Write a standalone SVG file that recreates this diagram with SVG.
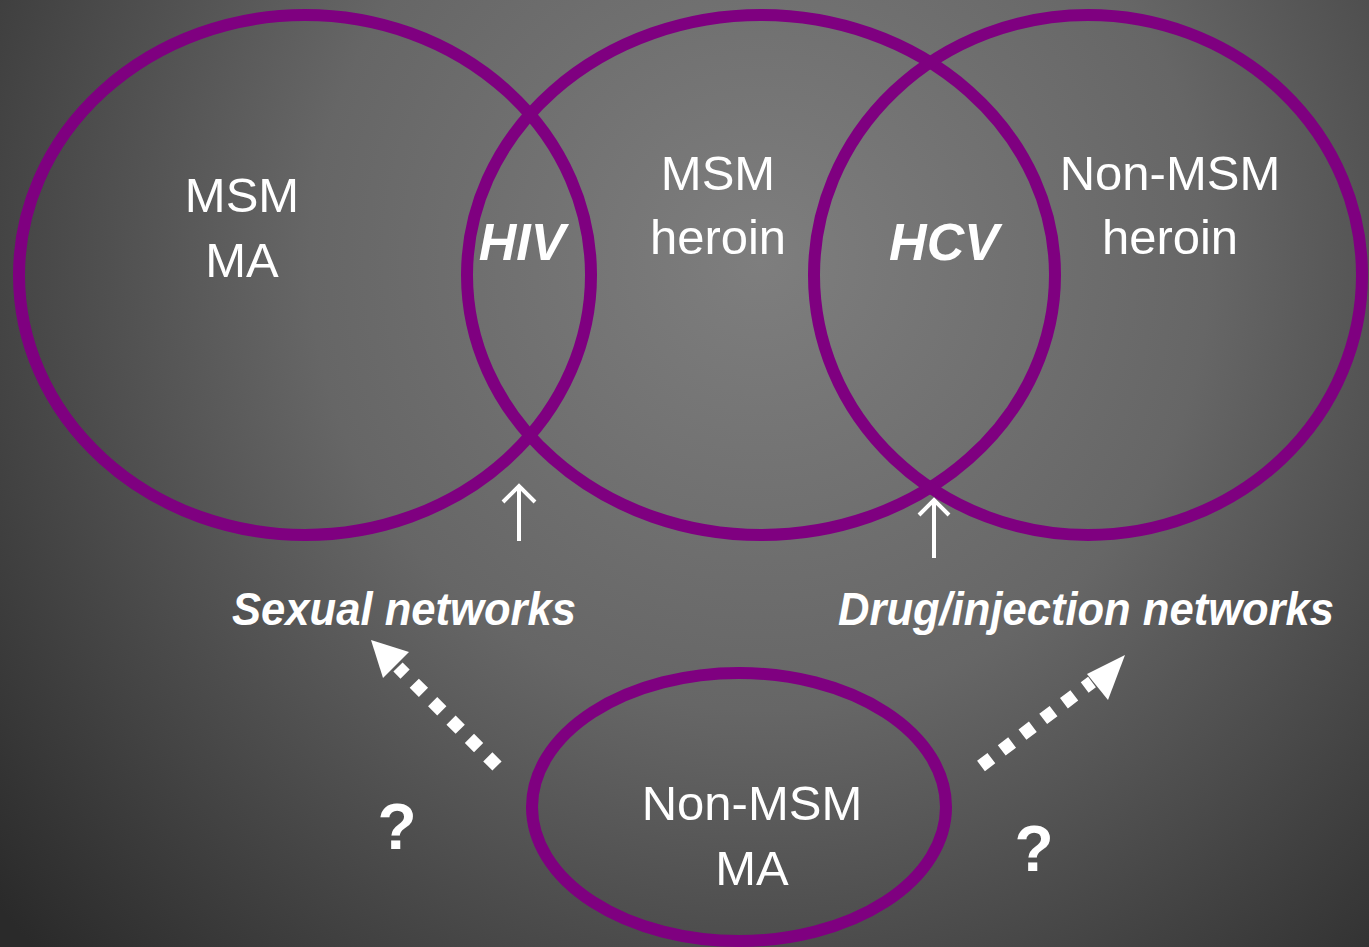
<svg xmlns="http://www.w3.org/2000/svg" width="1369" height="947" viewBox="0 0 1369 947">
<defs>
<radialGradient id="bg" gradientUnits="userSpaceOnUse" cx="760" cy="260" r="1000" fx="760" fy="260">
<stop offset="0" stop-color="#7e7e7e"/>
<stop offset="0.45" stop-color="#666666"/>
<stop offset="1" stop-color="#2a2a2a"/>
</radialGradient>
<style>
.ring{fill:none;stroke:#7f0080;stroke-width:12}
.t{fill:#fff;font-family:"Liberation Sans",Arial,sans-serif;font-size:49px;text-anchor:middle}
.bi{font-weight:bold;font-style:italic;font-size:52px}
.net{fill:#fff;font-family:"Liberation Sans Narrow","Liberation Sans",Arial,sans-serif;font-size:46px;font-weight:bold;font-style:italic}
.up{stroke:#fff;stroke-width:4;fill:none}
.dot{stroke:#fff;stroke-width:13;stroke-dasharray:13 13;fill:none}
.q{font-weight:bold;font-size:64px}
</style>
</defs>
<rect width="1369" height="947" fill="url(#bg)"/>
<g id="node-msm-ma"><ellipse class="ring" cx="305" cy="275" rx="286" ry="260"/><text class="t" x="242" y="212">MSM</text><text class="t" x="242" y="277">MA</text></g>
<g id="node-msm-heroin"><ellipse class="ring" cx="761" cy="275" rx="294" ry="260"/><text class="t" x="718" y="190">MSM</text><text class="t" x="718" y="254">heroin</text></g>
<g id="node-nonmsm-heroin"><ellipse class="ring" cx="1088" cy="275" rx="274" ry="260"/><text class="t" x="1170" y="190">Non-MSM</text><text class="t" x="1170" y="254">heroin</text></g>
<g id="node-nonmsm-ma"><ellipse class="ring" cx="739" cy="807" rx="207" ry="134"/><text class="t" x="752" y="820">Non-MSM</text><text class="t" x="752" y="885">MA</text></g>
<g id="labels">
<text class="t bi" x="522" y="260">HIV</text>
<text class="t bi" x="944" y="260">HCV</text>
<text class="net" x="232" y="625" textLength="344" lengthAdjust="spacingAndGlyphs">Sexual networks</text>
<text class="net" x="838" y="625" textLength="496" lengthAdjust="spacingAndGlyphs">Drug/injection networks</text>
<text class="t q" x="397" y="849">?</text>
<text class="t q" x="1034" y="871">?</text>
</g>
<g id="connectors">
<path class="up" d="M519 541V488M503 502L519 486L535 502"/>
<path class="up" d="M934 558V501M919 515L934 500L949 515"/>
<path class="dot" d="M497 766L398 667"/>
<polygon fill="#fff" points="371,640 409,652 383,678"/>
<path class="dot" d="M981 766L1092 682"/>
<polygon fill="#fff" points="1125,655 1087,674 1108,700"/>
</g>
</svg>
